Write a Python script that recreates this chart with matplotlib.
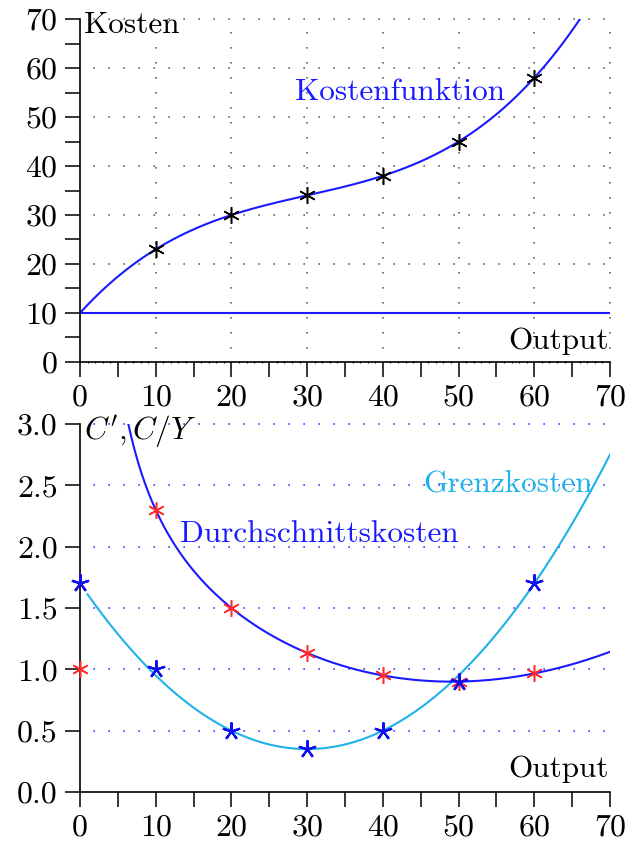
import numpy as np
import matplotlib
matplotlib.use("Agg")
import matplotlib.pyplot as plt
from matplotlib.ticker import MultipleLocator, FuncFormatter

plt.rcParams['font.family'] = 'cmr10'
plt.rcParams['mathtext.fontset'] = 'cm'
plt.rcParams['axes.formatter.use_mathtext'] = True

# output levels and observed total cost
output = np.array([0, 10, 20, 30, 40, 50, 60])
cost = np.array([10, 23, 30, 34, 38, 45, 58])
fixed_cost = 10

# marginal and average cost observations
marginal = np.array([1.7, 1.0, 0.5, 0.35, 0.5, 0.9, 1.7])
average = np.array([1.0, 2.3, 1.5, 1.133, 0.95, 0.9, 0.967])

# cubic cost function through the observed points
coeffs = np.polyfit(output, cost, 3)
dcoeffs = np.polyder(coeffs)

FS = 22.5
BLUE = '#1a1aff'
CYAN = '#1eb2e8'
RED = '#ff2a2a'
ASTER = (6, 2, 0)
STAR = (5, 2, 0)

fig = plt.figure(figsize=(6.29, 8.42), dpi=100)
ax1 = fig.add_axes([0.1272, 0.5701, 0.8426, 0.4073])
ax2 = fig.add_axes([0.1272, 0.0594, 0.8426, 0.4370])


def style_axis(ax):
    for s in ('top', 'right'):
        ax.spines[s].set_visible(False)
    ax.spines['left'].set_linewidth(1.2)
    ax.spines['bottom'].set_linewidth(1.2)
    ax.tick_params(which='both', direction='out', length=11, width=1.1,
                   labelsize=FS + 0.5, pad=5)
    ax.xaxis.set_major_locator(MultipleLocator(5))
    ax.xaxis.set_major_formatter(
        FuncFormatter(lambda v, p: '%d' % v if v % 10 == 0 else ''))
    ax.set_xlim(0, 70)


def dotted_hline(ax, y, color):
    ax.plot([0, 70], [y, y], color=color, lw=1.2, zorder=0,
            linestyle=(1, (1, 8)), clip_on=False)


def dotted_vline(ax, x, y0, y1, color):
    ax.plot([x, x], [y0, y1], color=color, lw=1.2, zorder=0,
            linestyle=(1, (1, 8)), clip_on=False)


# --- top: total cost -----------------------------------------------------
style_axis(ax1)
ax1.set_ylim(0, 70)
ax1.yaxis.set_major_locator(MultipleLocator(10))
ax1.yaxis.set_minor_locator(MultipleLocator(5))
ax1.xaxis.set_minor_locator(MultipleLocator(1))
ax1.tick_params(axis='x', which='minor', length=2, width=0.8, direction='inout')

for yv in range(10, 71, 10):
    dotted_hline(ax1, yv, '#666666')
for xv in range(10, 71, 10):
    dotted_vline(ax1, xv, 0, 70, '#666666')

xs = np.linspace(0, 70, 400)
ax1.plot(xs, np.polyval(coeffs, xs), color=BLUE, lw=1.5)
ax1.plot([0, 70], [fixed_cost, fixed_cost], color=BLUE, lw=1.5)
ax1.plot(output[1:], cost[1:], linestyle='none', marker=ASTER, ms=12,
         mew=1.1, color='black')

ax1.text(0.5, 67.1, 'Kosten', fontsize=FS, va='baseline', ha='left')
ax1.text(69.8, 2.6, 'Output', fontsize=FS, va='baseline', ha='right')
ax1.text(28.4, 53.5, 'Kostenfunktion', fontsize=FS, va='baseline',
         ha='left', color=BLUE)

# --- bottom: marginal and average cost ------------------------------------
style_axis(ax2)
ax2.set_ylim(0, 3.0)
ax2.yaxis.set_major_locator(MultipleLocator(0.5))
ax2.yaxis.set_major_formatter(FuncFormatter(lambda v, p: '%.1f' % v))

for yv in np.arange(0.5, 3.01, 0.5):
    dotted_hline(ax2, yv, '#4040ff')

xm = np.linspace(1, 70, 300)
ax2.plot(xm, np.polyval(dcoeffs, xm), color=CYAN, lw=1.5)
xa = np.linspace(5, 70, 300)
ax2.plot(xa, np.polyval(coeffs, xa) / xa, color=BLUE, lw=1.5)

ax2.plot(output, average, linestyle='none', marker=ASTER, ms=12, mew=1.1,
         color=RED, clip_on=False, zorder=4)
ax2.plot(output, marginal, linestyle='none', marker=STAR, ms=13, mew=1.6,
         color='#1010ee', clip_on=False, zorder=5)

ax2.text(0.5, 2.87, r"$C',C/Y$", fontsize=FS, va='baseline', ha='left')
ax2.text(69.8, 0.12, 'Output', fontsize=FS, va='baseline', ha='right')
ax2.text(13.2, 2.04, 'Durchschnittskosten', fontsize=FS, va='baseline',
         ha='left', color=BLUE)
ax2.text(45.4, 2.44, 'Grenzkosten', fontsize=FS, va='baseline',
         ha='left', color=CYAN)

fig.savefig('out.png', dpi=100)
